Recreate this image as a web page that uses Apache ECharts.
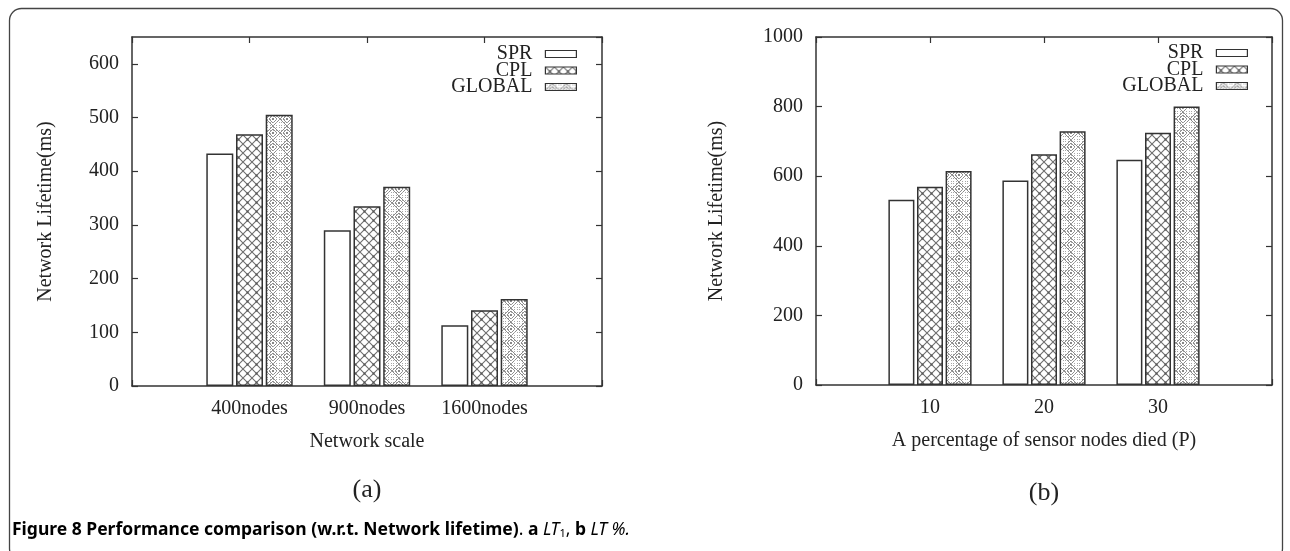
<!DOCTYPE html>
<html>
<head>
<meta charset="utf-8">
<title>Network lifetime</title>
<script src="https://cdn.jsdelivr.net/npm/echarts@6/dist/echarts.min.js"></script>
<style>
  html, body { margin: 0; padding: 0; background: #fff; }
  #chart { width: 1290px; height: 551px; }
</style>
</head>
<body>
<div id="chart"></div>
<script>
// (a) network scale
const scaleCats = ['400nodes', '900nodes', '1600nodes']
const sprA = [433, 290, 113]
const cplA = [469, 335, 141]
const globalA = [505, 371, 162]
// (b) percentage of sensor nodes died
const percentCats = ['10', '20', '30']
const sprB = [532, 588, 647]
const cplB = [570, 663, 725]
const globalB = [615, 729, 800]

const seriesNames = ['SPR', 'CPL', 'GLOBAL']
const serif = '"Liberation Serif", "DejaVu Serif", serif'
const ink = '#333'

// padding categories so the bars sit at 0,1,2 on a -1..3 range
const padCats = cats => ['', ...cats, '']
const pad = vals => ['-', ...vals, '-']

function makeTile (size, draw) {
  const c = document.createElement('canvas')
  c.width = size
  c.height = size
  const ctx = c.getContext('2d')
  ctx.fillStyle = '#fff'
  ctx.fillRect(0, 0, size, size)
  draw(ctx, size)
  return c
}

const crossTile = makeTile(9, (ctx, s) => {
  ctx.strokeStyle = '#6e6e6e'
  ctx.lineWidth = 1.1
  ctx.beginPath()
  ctx.moveTo(0, 0); ctx.lineTo(s, s)
  ctx.moveTo(s, 0); ctx.lineTo(0, s)
  ctx.stroke()
  ctx.fillStyle = '#555'
  ctx.fillRect(s / 2 - 1, s / 2 - 1, 2, 2)
})

const diamondTile = makeTile(14, (ctx, s) => {
  const h = s / 2
  ctx.strokeStyle = '#8c8c8c'
  ctx.lineWidth = 1
  ctx.beginPath()
  ctx.moveTo(h, 0); ctx.lineTo(s, h); ctx.lineTo(h, s); ctx.lineTo(0, h); ctx.closePath()
  ctx.moveTo(h, h - 4); ctx.lineTo(h + 4, h); ctx.lineTo(h, h + 4); ctx.lineTo(h - 4, h); ctx.closePath()
  ctx.stroke()
  ctx.fillStyle = '#a8a8a8'
  for (let x = 1; x < s; x += 3) {
    for (let y = 1; y < s; y += 3) ctx.fillRect(x, y, 1, 1)
  }
  ctx.fillStyle = '#888'
  ctx.fillRect(h - 1, h - 1, 2, 2)
})

const fills = ['#fff', { image: crossTile, repeat: 'repeat' }, { image: diamondTile, repeat: 'repeat' }]

const tick = { show: true, inside: true, length: 6, lineStyle: { color: ink, width: 1.2 } }
const line = { show: true, onZero: false, lineStyle: { color: ink, width: 1.5 } }

function boxAxes (cats, gridIndex, name) {
  return [
    {
      type: 'category', gridIndex, data: padCats(cats), boundaryGap: false, position: 'bottom',
      axisLine: line, axisTick: tick,
      axisLabel: { color: '#222', fontFamily: serif, fontSize: 20, margin: 13 },
      name, nameLocation: 'middle', nameGap: 46,
      nameTextStyle: { color: '#222', fontFamily: serif, fontSize: 20 }
    },
    {
      type: 'category', gridIndex, data: padCats(cats), boundaryGap: false, position: 'top',
      axisLine: line, axisTick: tick, axisLabel: { show: false }
    }
  ]
}

function valueAxes (max, interval, gridIndex, nameGap) {
  return [
    {
      type: 'value', gridIndex, min: 0, max, interval, position: 'left',
      name: 'Network Lifetime(ms)', nameLocation: 'middle', nameRotate: 90, nameGap,
      nameTextStyle: { color: '#222', fontFamily: serif, fontSize: 20 },
      axisLine: line, axisTick: tick, splitLine: { show: false },
      axisLabel: {
        color: '#222', fontFamily: serif, fontSize: 20, margin: 13,
        showMaxLabel: max % interval === 0,
        formatter: v => String(v)
      }
    },
    {
      type: 'value', gridIndex, min: 0, max, interval, position: 'right',
      axisLine: line, axisTick: tick, splitLine: { show: false }, axisLabel: { show: false }
    }
  ]
}

function barSeries (values, axisIndex, barWidth) {
  return values.map((vals, i) => ({
    name: seriesNames[i],
    type: 'bar',
    xAxisIndex: axisIndex,
    yAxisIndex: axisIndex,
    data: pad(vals),
    barWidth,
    barGap: '10%',
    itemStyle: { color: fills[i], borderColor: '#333', borderWidth: 1.5 },
    emphasis: { disabled: true }
  }))
}

function legendAt (right, top) {
  return {
    orient: 'vertical',
    right,
    top,
    padding: 0,
    align: 'right',
    itemWidth: 31,
    itemHeight: 7,
    itemGap: -3.5,
    selectedMode: false,
    icon: 'rect',
    data: seriesNames,
    itemStyle: { borderColor: '#333', borderWidth: 1.2 },
    textStyle: { color: '#222', fontFamily: serif, fontSize: 20, padding: [0, 8, 0, 0] }
  }
}

const chart = echarts.init(document.getElementById('chart'), null, { renderer: 'canvas' })
const option = {
  animation: false,
  backgroundColor: '#fff',
  grid: [
    { left: 132, right: 688, top: 37, bottom: 165 },
    { left: 816, right: 18, top: 37, bottom: 166 }
  ],
  xAxis: [...boxAxes(scaleCats, 0, 'Network scale'), ...boxAxes(percentCats, 1, 'A percentage of sensor nodes died (P)')],
  yAxis: [...valueAxes(650, 100, 0, 76), ...valueAxes(1000, 200, 1, 89)],
  legend: [legendAt(713, 44), legendAt(42, 43)],
  series: [
    ...barSeries([sprA, cplA, globalA], 0, 27),
    ...barSeries([sprB, cplB, globalB], 2, 26)
  ],
  graphic: [
    {
      type: 'rect', silent: true, z: -1,
      shape: { x: 9.5, y: 8.5, width: 1273, height: 552, r: 12 },
      style: { fill: 'none', stroke: '#444', lineWidth: 1.3 }
    },
    {
      type: 'text', x: 367, y: 490,
      style: { text: '(a)', font: '26px ' + serif, fill: '#222', align: 'center', verticalAlign: 'middle' }
    },
    {
      type: 'text', x: 1044, y: 493,
      style: { text: '(b)', font: '26px ' + serif, fill: '#222', align: 'center', verticalAlign: 'middle' }
    },
    {
      type: 'text', x: 12, y: 530,
      style: {
        text: '{b|Figure 8 Performance comparison (w.r.t. Network lifetime)}{n|. }{b|a }{i|LT}{s|1}{n|, }{b|b }{i|LT %.}',
        verticalAlign: 'middle',
        rich: {
          b: { fontFamily: '"Noto Sans", sans-serif', fontWeight: 'bold', fontSize: 17.5, color: '#222' },
          n: { fontFamily: '"Noto Sans", sans-serif', fontSize: 17.5, color: '#444' },
          i: { fontFamily: '"Noto Sans", sans-serif', fontStyle: 'italic', fontSize: 17.5, color: '#555' },
          s: { fontFamily: '"Noto Sans", sans-serif', fontSize: 11, color: '#555', verticalAlign: 'bottom', padding: [7, 0, 0, 0] }
        }
      }
    }
  ]
}
chart.setOption(option)
</script>
</body>
</html>
